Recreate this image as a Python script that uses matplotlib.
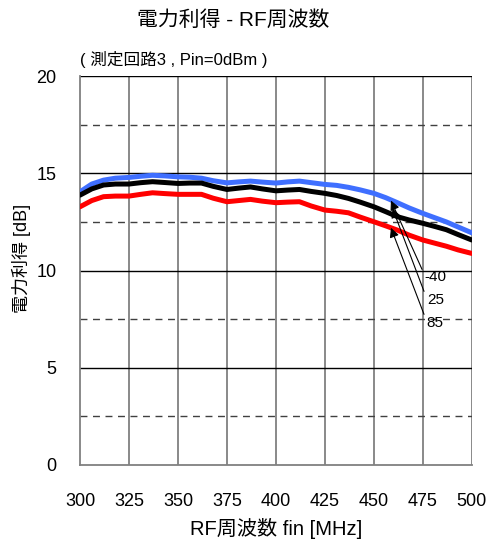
import matplotlib.pyplot as plt
import numpy as np

plt.rcParams['font.family'] = ['Liberation Sans', 'Noto Sans CJK JP']

freq = [300, 306, 312, 318, 325, 331, 337, 343, 350, 356, 362, 368, 375, 381, 387, 393, 400, 406, 412, 418,
        425, 431, 437, 443, 450, 456, 462, 468, 475, 481, 487, 493, 500]
gain_m40 = [14.05, 14.45, 14.65, 14.75, 14.79, 14.85, 14.9, 14.87, 14.82, 14.8, 14.75, 14.62, 14.51, 14.56, 14.6, 14.55,
            14.5, 14.56, 14.6, 14.52, 14.43, 14.38, 14.28, 14.15, 13.97, 13.75, 13.49, 13.22, 12.94, 12.72, 12.5, 12.24, 11.94]
gain_25 = [13.88, 14.2, 14.4, 14.45, 14.45, 14.52, 14.57, 14.53, 14.48, 14.5, 14.5, 14.33, 14.17, 14.24, 14.3, 14.2,
           14.1, 14.14, 14.17, 14.07, 13.97, 13.86, 13.71, 13.52, 13.28, 13.03, 12.77, 12.6, 12.43, 12.27, 12.1, 11.85, 11.57]
gain_85 = [13.28, 13.6, 13.8, 13.83, 13.83, 13.92, 14.0, 13.96, 13.92, 13.92, 13.92, 13.72, 13.54, 13.6, 13.66, 13.57,
           13.49, 13.52, 13.54, 13.32, 13.11, 13.05, 12.97, 12.75, 12.51, 12.3, 12.08, 11.82, 11.57, 11.41, 11.25, 11.06, 10.88]

labels = ['-40', '25', '85']
colors = ['#3f6fff', 'black', 'red']
tips = [(458.7, 13.6), (459.5, 13.2), (458.7, 12.2)]
text_pos = [(476.0, 9.67), (477.0, 8.48), (477.0, 7.3)]

fig = plt.figure(figsize=(4.91, 5.4), dpi=100)
ax = fig.add_axes([0.163, 0.139, 0.798, 0.72])

ax.set_xlim(300, 500)
ax.set_ylim(0, 20)

for x in np.arange(325, 501, 25):
    ax.axvline(x, color='#808080', lw=1.3, zorder=1)
for y in [5, 10, 15, 20]:
    ax.axhline(y, color='black', lw=1.0, zorder=1)
for y in [2.5, 7.5, 12.5, 17.5]:
    ax.axhline(y, color='#404040', lw=1.0, ls=(0, (5, 4)), zorder=1)

for g, c in zip([gain_m40, gain_25, gain_85], colors):
    ax.plot(freq, g, color=c, lw=3.6, zorder=3, solid_capstyle='round', solid_joinstyle='round')

for lab, tip, tp in zip(labels, tips, text_pos):
    ax.annotate(lab, xy=tip, xytext=tp, fontsize=11, va='center', ha='left',
                arrowprops=dict(arrowstyle='-|>', color='black', lw=0.8, relpos=(0, 0.6),
                                mutation_scale=14, shrinkA=0, shrinkB=0),
                zorder=4)

for s in ['top', 'right']:
    ax.spines[s].set_visible(False)
for s in ['left', 'bottom']:
    ax.spines[s].set_color('#808080')
    ax.spines[s].set_linewidth(1.3)

ax.set_xticks(np.arange(300, 501, 25))
ax.set_yticks([0, 5, 10, 15, 20])
ax.tick_params(length=0, labelsize=13, pad=17)
ax.tick_params(axis='x', pad=20)

ax.set_xlabel('RF周波数 fin [MHz]', fontsize=14.5, labelpad=6)
ax.set_ylabel('電力利得 [dB]', fontsize=13)
ax.yaxis.set_label_coords(-0.125, 0.53)
fig.text(0.474, 0.963, '電力利得 - RF周波数', fontsize=15, ha='center', va='center')
fig.text(0.163, 0.889, '( 測定回路3 , Pin=0dBm )', fontsize=12, ha='left', va='center')

fig.savefig('out.png', dpi=100)
